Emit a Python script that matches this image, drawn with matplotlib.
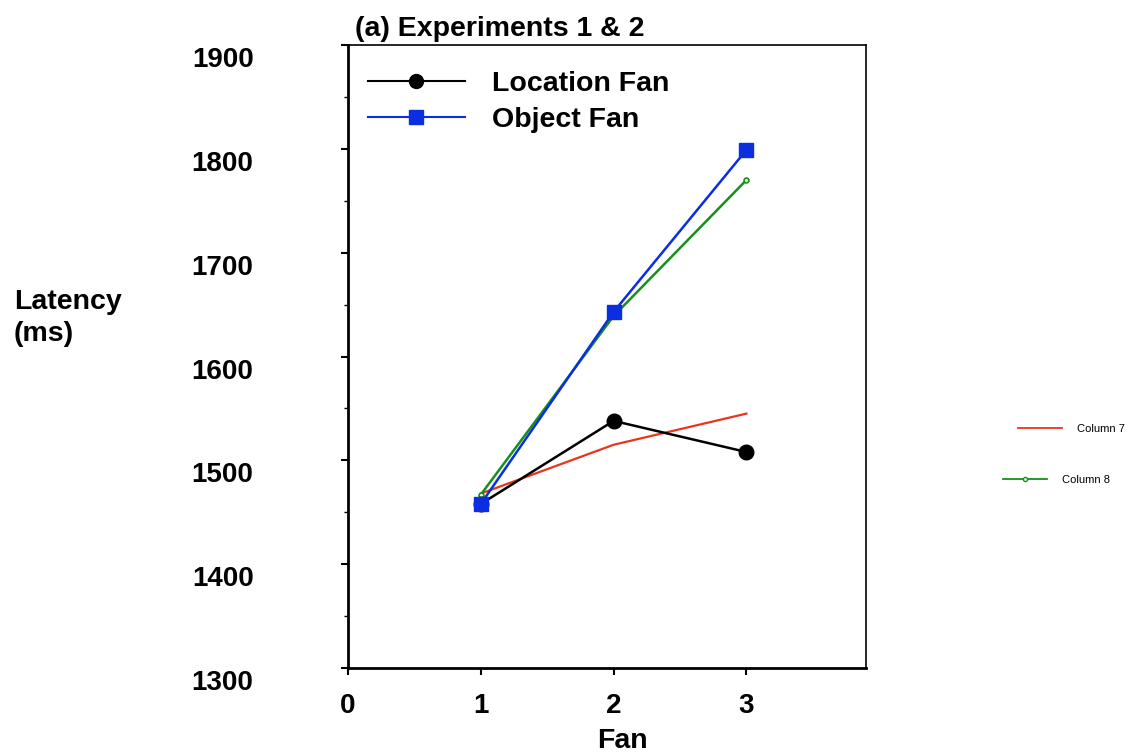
import matplotlib
matplotlib.use("Agg")
import matplotlib.pyplot as plt
from matplotlib.lines import Line2D
import matplotlib.transforms as mtransforms

plt.rcParams['font.family'] = ['Liberation Sans', 'DejaVu Sans']

fan = [1, 2, 3]
location_fan = [1458, 1538, 1508]
object_fan = [1458, 1643, 1799]
column7 = [1468, 1515, 1545]
column8 = [1467, 1639, 1770]

x_ticks = [0, 1, 2, 3]
y_ticks = [1300, 1400, 1500, 1600, 1700, 1800, 1900]

fig = plt.figure(figsize=(11.3, 7.55), dpi=100)
W, H = 1130, 755
left, right, top, bottom = 348, 866, 45, 668
ax = fig.add_axes([left / W, 1 - bottom / H, (right - left) / W, (bottom - top) / H])

ax.plot(fan, column7, color='#e8361c', lw=1.6, zorder=2)
ax.plot(fan, column8, color='#16901a', lw=1.8, marker='o', ms=3.5,
        mfc='white', mec='#16901a', mew=1.2, zorder=3)
ax.plot(fan, location_fan, color='black', lw=1.8, marker='o', ms=10.5,
        mfc='black', mec='black', zorder=4)
ax.plot(fan, object_fan, color='#0a2ee0', lw=1.8, marker='s', ms=10.5,
        mfc='#0a2ee0', mec='#0a2ee0', zorder=5)

ax.set_xlim(0, 3.9)
ax.set_ylim(1300, 1900)
ax.set_xticks(x_ticks)
ax.set_xticklabels([str(v) for v in x_ticks])
ax.set_yticks(y_ticks)
ax.set_yticklabels([str(v) for v in y_ticks])
ax.set_yticks(range(1350, 1900, 100), minor=True)

for s in ['left', 'bottom']:
    ax.spines[s].set_linewidth(2)
for s in ['top', 'right']:
    ax.spines[s].set_linewidth(1.2)

ax.tick_params(axis='both', which='major', direction='out', length=5, width=1.5,
               labelsize=20)
ax.tick_params(axis='y', which='minor', direction='out', length=3, width=1)
ax.tick_params(axis='y', pad=63)
ax.tick_params(axis='x', pad=13)
for lab in ax.get_yticklabels():
    lab.set_fontweight('bold')
    lab.set_horizontalalignment('right')
    lab.set_transform(lab.get_transform() + mtransforms.ScaledTranslation(0, -0.12, fig.dpi_scale_trans))
for lab in ax.get_xticklabels():
    lab.set_fontweight('bold')

fig.text(622 / W, 1 - 741 / H, 'Fan', ha='center', va='center', fontsize=20.5, fontweight='bold')
fig.text(14 / W, 1 - 318 / H, 'Latency\n(ms)', ha='left', va='center', fontsize=20.5,
         fontweight='bold', linespacing=1.3)
fig.text(355 / W, 1 - 29 / H, '(a) Experiments 1 & 2', ha='left', va='center',
         fontsize=20.5, fontweight='bold')

h1 = Line2D([], [], color='black', lw=1.5, marker='o', ms=10, mfc='black')
h2 = Line2D([], [], color='#0a2ee0', lw=1.5, marker='s', ms=10, mfc='#0a2ee0', mec='#0a2ee0')
ax.legend([h1, h2], ['Location Fan', 'Object Fan'], loc='upper left',
          bbox_to_anchor=(-0.011, 1.0), frameon=False, handlelength=3.4,
          handletextpad=0.95, labelspacing=0.35,
          prop={'size': 20.5, 'weight': 'bold'})

h3 = Line2D([], [], color='#e8361c', lw=1.3)
h4 = Line2D([], [], color='#16901a', lw=1.3, marker='o', ms=3, mfc='white', mec='#16901a')
fig.legend([h3], ['Column 7'], loc='center left', bbox_to_anchor=(1008 / W, 1 - 429 / H),
           frameon=False, handlelength=4.0, handletextpad=1.3, prop={'size': 8})
fig.legend([h4], ['Column 8'], loc='center left', bbox_to_anchor=(993 / W, 1 - 480 / H),
           frameon=False, handlelength=4.0, handletextpad=1.3, prop={'size': 8})

fig.savefig('out.png', dpi=100)
